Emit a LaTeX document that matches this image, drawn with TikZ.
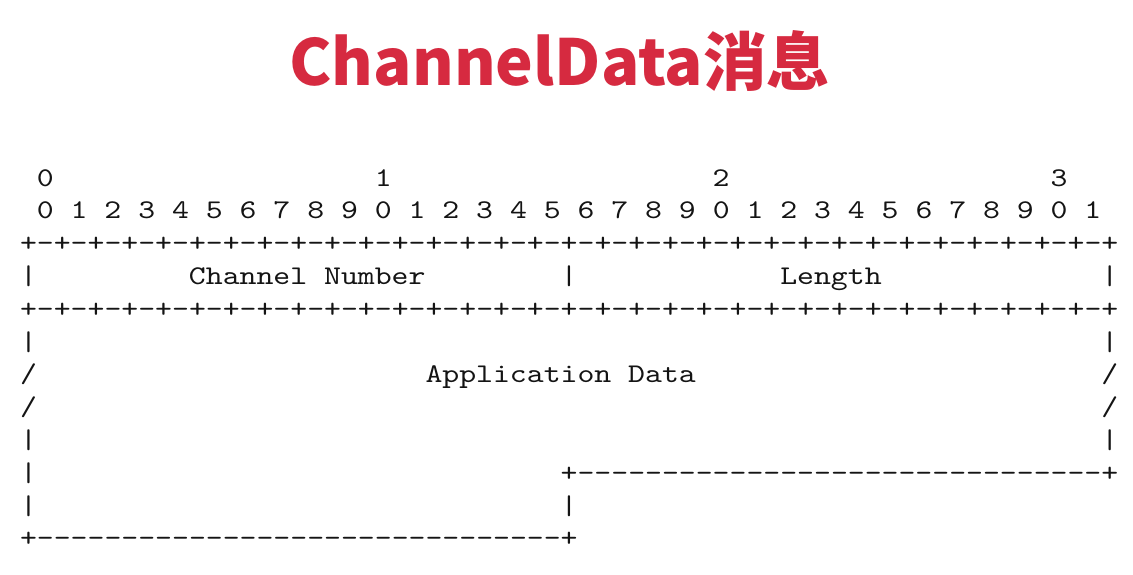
\documentclass[tikz,border=0pt]{standalone}
\usepackage{fontspec}
\usepackage{xcolor}
\usepackage{tikz}
\newfontfamily\cjk{Noto Sans CJK SC}
\newfontfamily\asciifont{lmmono10-regular.otf}[FakeStretch=1.192, Ligatures=TeXOff]
\definecolor{titlered}{RGB}{214,42,64}
\definecolor{ink}{RGB}{20,20,20}
\tikzset{
  T/.style={anchor=base, inner sep=0pt, text=titlered,
            font=\cjk\bfseries\fontsize{63.5}{68}\selectfont},
  A/.style={anchor=base west, inner sep=0pt, outer sep=0pt, text=ink,
            font=\asciifont\fontsize{27}{32}\selectfont}
}

\begin{document}
\begin{tikzpicture}
\useasboundingbox[fill=white] (0pt,0pt) rectangle (1133pt,-574pt);

% ---- Title ----
\node[T] (title) at (560pt,-85pt) {ChannelData消息};

\begin{scope}[x=16.894pt, y=-32.8pt, shift={(20.05pt,-186pt)}]
% ---- Row 0-1: bit numbers ----
\node[A] (ten0) at (1,0)  {0};
\node[A] (ten1) at (21,0) {1};
\node[A] (ten2) at (41,0) {2};
\node[A] (ten3) at (61,0) {3};
\node[A] (bits) at (1,1)
    {0 1 2 3 4 5 6 7 8 9 0 1 2 3 4 5 6 7 8 9 0 1 2 3 4 5 6 7 8 9 0 1};

% ---- Row 2-4: Channel Number | Length ----
\node[A] (ruleA) at (0,2)
    {+-+-+-+-+-+-+-+-+-+-+-+-+-+-+-+-+-+-+-+-+-+-+-+-+-+-+-+-+-+-+-+-+};
\node[A] (barL3) at (0,3)  {|};
\node[A] (chan)  at (10,3) {Channel Number};
\node[A] (barM3) at (32,3) {|};
\node[A] (len)   at (45,3) {Length};
\node[A] (barR3) at (64,3) {|};
\node[A] (ruleB) at (0,4)
    {+-+-+-+-+-+-+-+-+-+-+-+-+-+-+-+-+-+-+-+-+-+-+-+-+-+-+-+-+-+-+-+-+};

% ---- Row 5-11: Application Data ----
\node[A] (barL5) at (0,5)  {|};
\node[A] (barR5) at (64,5) {|};
\node[A] (slL6)  at (0,6)  {/};
\node[A] (app)   at (24,6) {Application Data};
\node[A] (slR6)  at (64,6) {/};
\node[A] (slL7)  at (0,7)  {/};
\node[A] (slR7)  at (64,7) {/};
\node[A] (barL8) at (0,8)  {|};
\node[A] (barR8) at (64,8) {|};
\node[A] (barL9) at (0,9)  {|};
\node[A] (padR)  at (32,9) {+-------------------------------+};
\node[A] (barL10) at (0,10)  {|};
\node[A] (barM10) at (32,10) {|};
\node[A] (padL)  at (0,11) {+-------------------------------+};
\end{scope}

\end{tikzpicture}
\end{document}
